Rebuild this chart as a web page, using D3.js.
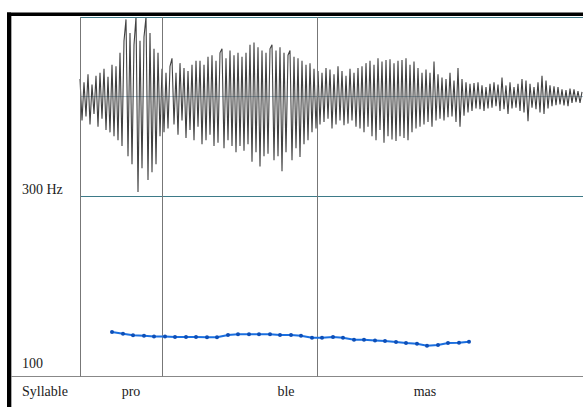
<!DOCTYPE html>
<html>
<head>
<meta charset="utf-8">
<script src="https://cdn.jsdelivr.net/npm/d3@7"></script>
<style>
  body { margin: 0; background: #fff; }
  svg { display: block; }
  text { font-family: "Liberation Serif", "Times New Roman", serif; font-size: 14px; fill: #222; }
</style>
</head>
<body>
<svg></svg>
<script>
// waveform samples, one every 2 ms, full scale = 1
const waveStep = 2;
const wave = [
  0.22, -0.30, 0.18, -0.25, 0.28, -0.35, 0.15, -0.22, 0.26, -0.38, 0.30, -0.28, 0.35, -0.42, 0.25, -0.45, 0.40, -0.50, 0.38, -0.55,
  0.55, -0.62, 0.70, 0.97, -0.75, 0.80, -0.85, 0.65, 1.00, -1.20, 0.70, -0.90, 0.75, 1.00, -1.05, 0.80, -0.95, 0.60, -0.85, 0.55,
  -0.50, 0.35, -0.45, 0.30, -0.40, 0.38, 0.48, -0.35, 0.30, -0.48, 0.42, -0.30, 0.36, -0.52, 0.32, -0.42, 0.40, -0.55, 0.45, -0.38,
  0.45, -0.60, 0.40, -0.55, 0.50, -0.48, 0.52, -0.62, 0.45, -0.58, 0.55, 0.60, -0.65, 0.48, -0.55, 0.58, -0.62, 0.52, -0.70, 0.55,
  -0.62, 0.50, -0.68, 0.55, -0.60, 0.65, -0.82, 0.68, -0.70, 0.62, -0.88, 0.58, -0.75, 0.55, -0.72, 0.60, 0.65, -0.80, 0.58, -0.75,
  0.62, -0.94, 0.55, -0.70, 0.52, 0.58, -0.80, 0.50, -0.65, 0.48, -0.76, 0.45, -0.60, 0.40, -0.55, 0.42, -0.45, 0.35, -0.40, 0.32,
  -0.35, 0.30, -0.32, 0.36, -0.28, 0.34, -0.40, 0.28, -0.35, 0.38, -0.30, 0.32, -0.36, 0.26, -0.34, 0.35, -0.30, 0.30, -0.38, 0.36,
  -0.40, 0.38, -0.45, 0.42, -0.38, 0.45, -0.50, 0.40, -0.55, 0.48, -0.42, 0.44, -0.58, 0.46, -0.50, 0.47, -0.54, 0.42, -0.56, 0.45,
  -0.50, 0.46, -0.52, 0.48, -0.55, 0.40, -0.45, 0.44, -0.40, 0.36, -0.38, 0.30, -0.35, 0.34, -0.32, 0.30, -0.38, 0.44, -0.30, 0.28,
  -0.28, 0.24, -0.30, 0.22, -0.26, 0.30, -0.25, 0.20, -0.32, 0.36, -0.38, 0.22, -0.24, 0.18, -0.20, 0.16, -0.18, 0.17, -0.15, 0.18,
  -0.16, 0.14, -0.18, 0.12, -0.15, 0.16, -0.14, 0.18, -0.12, 0.15, -0.18, 0.24, -0.16, 0.14, -0.22, 0.18, -0.15, 0.12, -0.14, 0.16,
  -0.18, 0.22, -0.20, 0.20, -0.31, 0.16, -0.14, 0.12, -0.16, 0.18, -0.20, 0.26, -0.22, 0.20, -0.15, 0.14, -0.12, 0.13, -0.11, 0.12,
  -0.10, 0.09, -0.11, 0.08, -0.12, 0.10, -0.08, 0.09, -0.07, 0.07, -0.08, 0.06
];

// pitch track (ms, Hz)
const pitchTimes = [32, 43, 53, 64, 74, 85, 95, 106, 116, 127, 137, 148, 158, 169, 179, 190, 200, 211,
  221, 232, 242, 253, 263, 274, 284, 295, 305, 316, 326, 337, 347, 358, 368, 379, 389];
const pitchHz = [149.2, 147.4, 145.6, 145.2, 144.4, 144.4, 143.7, 143.7, 143.7, 143.5, 143.5, 145.9,
  146.7, 146.7, 146.7, 146.7, 145.9, 145.9, 145.2, 143.0, 143.0, 143.7, 143.0, 140.8, 140.8, 140.0,
  139.2, 138.1, 137.0, 136.3, 134.1, 134.8, 137.0, 137.4, 138.6];

// syllables
const syllables = ['pro', 'ble', 'mas'];
const syllableBounds = [82, 237];
const syllableNuclei = [51, 206, 345];
const pitchTicks = [300, 100];
const duration = 503;

const W = 583, H = 407;
const svg = d3.select('svg').attr('width', W).attr('height', H);

const x = d3.scaleLinear().domain([0, duration]).range([80, 583]);
const yWave = d3.scaleLinear().domain([-1.25, 1]).range([196, 17]);
const yPitch = d3.scaleLinear().domain([100, 300]).range([376.5, 196]);

// frame
svg.append('rect').attr('x', 7).attr('y', 12.5).attr('width', W - 7).attr('height', 3.5).attr('fill', '#000');
svg.append('rect').attr('x', 7).attr('y', 12.5).attr('width', 4).attr('height', H).attr('fill', '#000');
svg.append('line').attr('x1', 11.5).attr('x2', 11.5).attr('y1', 16).attr('y2', H)
  .attr('stroke', '#aaa').attr('stroke-width', 1);

// waveform centre line
svg.append('line').attr('x1', 80).attr('x2', W).attr('y1', yWave(0)).attr('y2', yWave(0))
  .attr('stroke', '#a9c2cf').attr('stroke-width', 1);

// waveform
const waveLine = d3.line()
  .x((d, i) => x(i * waveStep))
  .y((d) => yWave(d));
svg.append('path').datum(wave)
  .attr('d', waveLine)
  .attr('fill', 'none')
  .attr('stroke', '#111')
  .attr('stroke-width', 1.1)
  .attr('stroke-opacity', 0.8);

// panel lines
svg.append('line').attr('x1', 80).attr('x2', W).attr('y1', 17.5).attr('y2', 17.5)
  .attr('stroke', '#3d7a88').attr('stroke-width', 1.2);
svg.append('line').attr('x1', 80).attr('x2', W).attr('y1', 196.5).attr('y2', 196.5)
  .attr('stroke', '#3d7a88').attr('stroke-width', 1.2);
svg.append('line').attr('x1', 11).attr('x2', W).attr('y1', 376.5).attr('y2', 376.5)
  .attr('stroke', '#888').attr('stroke-width', 1.2);

svg.append('line').attr('x1', x(0) + 0.5).attr('x2', x(0) + 0.5).attr('y1', 17).attr('y2', 376.5)
  .attr('stroke', '#777').attr('stroke-width', 1);
svg.selectAll('line.bound').data(syllableBounds).enter().append('line')
  .attr('class', 'bound')
  .attr('x1', (d) => Math.round(x(d)) + 0.5)
  .attr('x2', (d) => Math.round(x(d)) + 0.5)
  .attr('y1', 17).attr('y2', 376.5)
  .attr('stroke', '#777').attr('stroke-width', 1);

// pitch labels
svg.selectAll('text.tick').data(pitchTicks).enter().append('text')
  .attr('class', 'tick')
  .attr('x', 22)
  .attr('y', (d) => yPitch(d) - (d === 300 ? 2 : 8.5))
  .text((d) => (d === 300 ? d + ' Hz' : d));

// pitch track
const pitch = pitchTimes.map((t, i) => [t, pitchHz[i]]);
svg.append('path').datum(pitch)
  .attr('d', d3.line().x((d) => x(d[0])).y((d) => yPitch(d[1])))
  .attr('fill', 'none')
  .attr('stroke', '#1a6fe0')
  .attr('stroke-width', 2);
svg.selectAll('circle').data(pitch).enter().append('circle')
  .attr('cx', (d) => x(d[0]))
  .attr('cy', (d) => yPitch(d[1]))
  .attr('r', 2)
  .attr('fill', '#0d4fb8');

// syllable row
svg.append('text').attr('x', 22).attr('y', 396).text('Syllable');
svg.selectAll('text.syl').data(syllables).enter().append('text')
  .attr('class', 'syl')
  .attr('x', (d, i) => x(syllableNuclei[i]))
  .attr('y', 396)
  .attr('text-anchor', 'middle')
  .text((d) => d);
</script>
</body>
</html>
